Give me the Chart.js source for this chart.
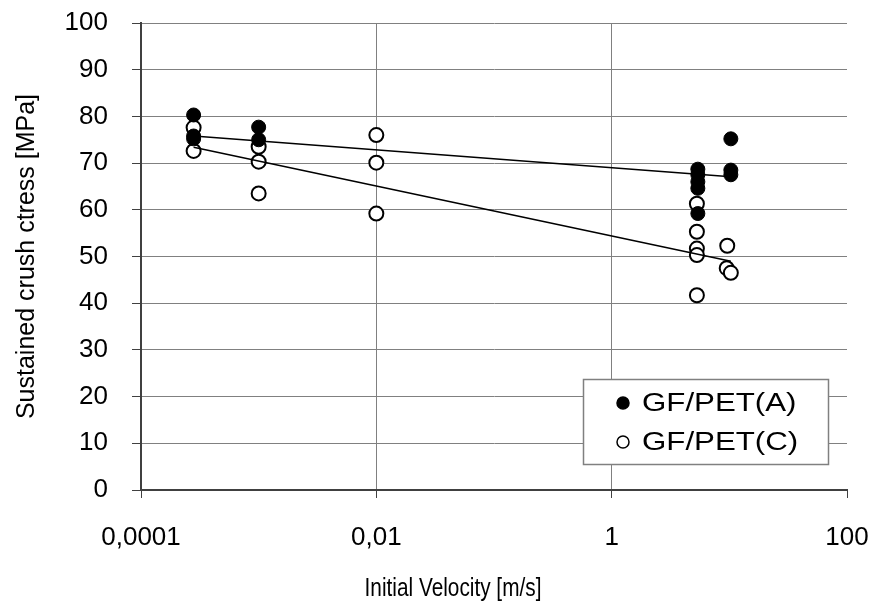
<!DOCTYPE html>
<html>
<head>
<meta charset="utf-8">
<script src="https://cdn.jsdelivr.net/npm/chart.js@4/dist/chart.umd.min.js"></script>
<style>
  html, body { margin: 0; padding: 0; background: #fff; }
  #wrap { width: 875px; height: 606px; }
</style>
</head>
<body>
<div id="wrap"><canvas id="myChart" width="875" height="606"></canvas></div>
<script>
// data
const seriesNames = ['GF/PET(A)', 'GF/PET(C)'];

const velA = [0.00028, 0.00028, 0.00028, 0.001, 0.001, 5.4, 5.4, 5.4, 5.4, 5.4, 10.3, 10.3, 10.3];
const stressA = [80.3, 75.8, 75.2, 77.7, 75.0, 68.7, 67.5, 66.0, 64.6, 59.2, 75.2, 68.5, 67.5];

const velC = [0.00028, 0.00028, 0.001, 0.001, 0.001, 0.01, 0.01, 0.01, 5.3, 5.3, 5.3, 5.3, 5.3, 9.6, 9.5, 10.3];
const stressC = [77.6, 72.6, 73.5, 70.3, 63.5, 76.0, 70.1, 59.2, 61.3, 55.3, 51.7, 50.3, 41.7, 52.3, 47.5, 46.5];

// trend lines (log fits), ends
const trendVel = [0.00028, 10.3];
const trendA = [75.8, 67.1];
const trendC = [73.4, 49.0];

const xTicks = [0.0001, 0.01, 1, 100];
const xTickLabels = ['0,0001', '0,01', '1', '100'];
const yMin = 0, yMax = 100, yStep = 10;

const xTitle = 'Initial Velocity [m/s]';
const yTitle = 'Sustained crush ctress [MPa]';

function toPoints(xs, ys) {
    return xs.map((x, i) => ({ x: x, y: ys[i] }));
}

const FONT = "'Liberation Sans', Arial, sans-serif";

// legend box inside the plot + x axis title
const extras = {
    id: 'extras',
    afterDraw(chart) {
        const ctx = chart.ctx;
        ctx.save();
        // legend
        const bx = 583, by = 379, bw = 245, bh = 85;
        ctx.fillStyle = '#fff';
        ctx.fillRect(bx, by, bw, bh);
        ctx.strokeStyle = '#808080';
        ctx.lineWidth = 1.5;
        ctx.strokeRect(bx + 0.5, by + 0.5, bw, bh);
        const rows = [403, 442];
        [0, 1].forEach(i => {
            ctx.beginPath();
            ctx.arc(623, rows[i], 6, 0, Math.PI * 2);
            ctx.fillStyle = i === 0 ? '#000' : '#fff';
            ctx.fill();
            ctx.lineWidth = 1.5;
            ctx.strokeStyle = '#000';
            ctx.stroke();
            // text is a bit wider than plain Arial in the original
            ctx.save();
            ctx.translate(642, rows[i] + 1);
            ctx.scale(1.25, 1);
            ctx.font = '25px ' + FONT;
            ctx.textBaseline = 'middle';
            ctx.fillStyle = '#000';
            ctx.fillText(seriesNames[i], 0, 0);
            ctx.restore();
        });
        // x title, narrow
        ctx.save();
        ctx.translate(453, 589);
        ctx.scale(0.8, 1);
        ctx.font = '26px ' + FONT;
        ctx.textAlign = 'center';
        ctx.textBaseline = 'middle';
        ctx.fillStyle = '#000';
        ctx.fillText(xTitle, 0, 0);
        ctx.restore();
        ctx.restore();
    }
};

const ctx = document.getElementById('myChart').getContext('2d');
new Chart(ctx, {
    type: 'scatter',
    data: {
        datasets: [
            {
                label: 'trendA',
                data: toPoints(trendVel, trendA),
                showLine: true,
                borderColor: '#000',
                borderWidth: 1.5,
                pointRadius: 0,
                order: 0
            },
            {
                label: 'trendC',
                data: toPoints(trendVel, trendC),
                showLine: true,
                borderColor: '#000',
                borderWidth: 1.5,
                pointRadius: 0,
                order: 0
            },
            {
                label: seriesNames[1],
                data: toPoints(velC, stressC),
                pointRadius: 7,
                pointBackgroundColor: '#fff',
                pointBorderColor: '#000',
                pointBorderWidth: 2,
                order: 2
            },
            {
                label: seriesNames[0],
                data: toPoints(velA, stressA),
                pointRadius: 7,
                pointBackgroundColor: '#000',
                pointBorderColor: '#000',
                pointBorderWidth: 1,
                order: 1
            }
        ]
    },
    options: {
        responsive: false,
        animation: false,
        layout: { padding: { top: 23, right: 28, left: 0, bottom: 0 } },
        plugins: {
            legend: { display: false },
            tooltip: { enabled: false }
        },
        scales: {
            x: {
                type: 'logarithmic',
                min: xTicks[0],
                max: xTicks[xTicks.length - 1],
                afterBuildTicks: (scale) => {
                    scale.ticks = xTicks.map(v => ({ value: v }));
                },
                afterFit: (scale) => {
                    scale.height = 116;
                    scale.paddingLeft = 0;
                    scale.paddingRight = 0;
                },
                grid: {
                    color: (c) => (c.index === 0 || c.index === xTicks.length - 1) ? 'rgba(0,0,0,0)' : '#808080',
                    tickColor: '#404040',
                    tickLength: 8,
                    lineWidth: 1
                },
                border: { color: '#404040', width: 2 },
                ticks: {
                    autoSkip: false,
                    maxRotation: 0,
                    padding: 24,
                    color: '#000',
                    font: { family: FONT, size: 26 },
                    callback: (v, i) => xTickLabels[i]
                }
            },
            y: {
                min: yMin,
                max: yMax,
                afterFit: (scale) => {
                    scale.width = 141;
                    scale.paddingTop = 0;
                    scale.paddingBottom = 0;
                },
                grid: {
                    color: (c) => c.index === 0 ? 'rgba(0,0,0,0)' : '#808080',
                    tickColor: '#404040',
                    tickLength: 9,
                    lineWidth: 1
                },
                border: { color: '#404040', width: 2 },
                ticks: {
                    stepSize: yStep,
                    padding: 24,
                    color: '#000',
                    font: { family: FONT, size: 26 }
                },
                title: {
                    display: true,
                    text: yTitle,
                    color: '#000',
                    font: { family: FONT, size: 25 },
                    padding: { top: 12, bottom: 0 }
                }
            }
        }
    },
    plugins: [extras]
});
</script>
</body>
</html>
